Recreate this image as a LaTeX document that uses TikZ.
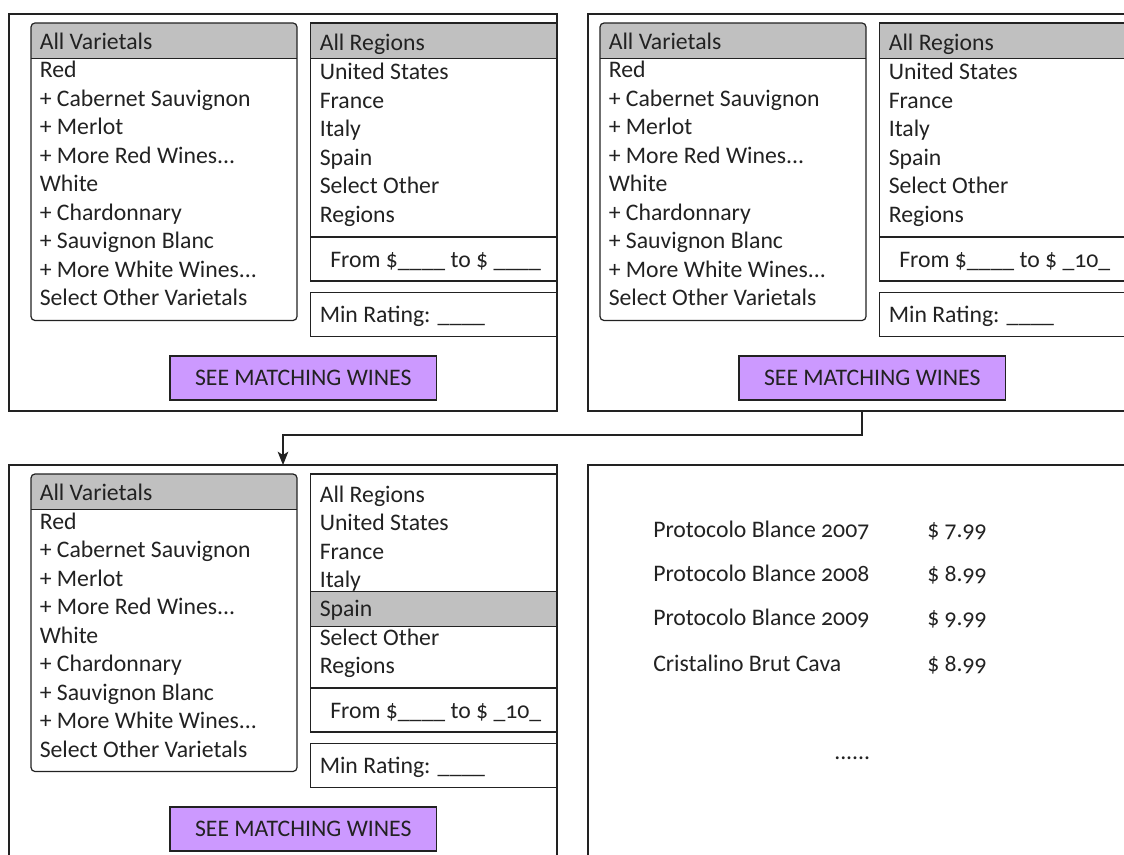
\documentclass[tikz,border=0pt]{standalone}
\usepackage{fontspec}
\setmainfont{Carlito}[Numbers=OldStyle]
\usetikzlibrary{arrows.meta,fit}
\definecolor{hdr}{HTML}{C0C0C0}
\definecolor{purp}{HTML}{CC99FF}
\definecolor{ink}{HTML}{222222}
\newcommand\tdots{...}
\tikzset{
  frame/.style={draw=ink, line width=0.9pt},
  panel/.style={draw=ink, line width=0.9pt, inner sep=0pt, outer sep=0pt},
  txt/.style={anchor=base west, inner sep=0pt, text=ink, font=\fontsize{17.8pt}{21pt}\selectfont},
  ctxt/.style={txt, anchor=base},
  link/.style={draw=ink, line width=0.9pt, -{Stealth[length=10pt,width=8pt,inset=2.5pt]}}
}
\newcommand\wform[6]{% #1 name, #2 dx, #3 dy, #4 price text, #5 header?, #6 spain?
\begin{scope}[shift={(#2,#3)}]
  % varietals box
  \begin{scope}
    \clip[rounded corners=3pt] (31,23) rectangle (297,320.5);
    \fill[hdr] (31,23) rectangle (297,58.3);
  \end{scope}
  \draw[frame] (31,58.3) -- (297,58.3);
  \draw[frame, rounded corners=3pt] (31,23) rectangle (297,320.5);
  \foreach \t [count=\i] in {All Varietals, Red, + Cabernet Sauvignon, + Merlot, + More Red Wines\tdots, White, + Chardonnary, + Sauvignon Blanc, + More White Wines\tdots, Select Other Varietals}
    \node[txt] (#1v\i) at (39.5,{49.5+28.5*(\i-1)}) {\t};
  % regions box
  \ifnum#5=1
    \fill[hdr] (310.5,23) rectangle (557,58.3);
    \draw[frame] (310.5,58.3) -- (557,58.3);
  \fi
  \ifnum#6=1
    \draw[frame, fill=hdr] (310.5,140.7) rectangle (557,175.7);
  \fi
  \draw[frame] (310.5,23) rectangle (557,237);
  \foreach \t [count=\i] in {All Regions, United States, France, Italy, Spain, Select Other, Regions}
    \node[txt] (#1r\i) at (319.5,{51+28.6*(\i-1)}) {\t};
  % price box
  \draw[frame] (310.5,237) rectangle (557,281);
  \node[txt] (#1p) at (330,267.5) {#4};
  % min rating
  \draw[frame] (310.5,292.5) rectangle (557,336.5);
  \node[txt] (#1m) at (319.5,322.5) {Min Rating: \_\_\_\_};
  % button
  \draw[frame, fill=purp] (170,356) rectangle (436.5,400);
  \node[ctxt] (#1b) at (303.25,385.5) {SEE MATCHING WINES};
\end{scope}}
\begin{document}
\begin{tikzpicture}[x=0.75pt,y=-0.75pt]
\useasboundingbox (0,0) rectangle (1124,855);
\clip (0,0) rectangle (1124,855);
\fill[white] (0,0) rectangle (1124,855);
% panels
\node[panel, fit={(9,14) (557,411)}] (P1) {};
\node[panel, fit={(588,14) (1136,411)}] (P2) {};
\node[panel, fit={(9,465) (557,870)}] (P3) {};
\node[panel, fit={(588,465) (1136,870)}] (P4) {};
% forms
\wform{a}{0}{0}{From \$\_\_\_\_ to \$ \_\_\_\_}{1}{0}
\wform{b}{569}{0}{From \$\_\_\_\_ to \$ \_10\_}{1}{0}
\wform{c}{0}{451}{From \$\_\_\_\_ to \$ \_10\_}{0}{1}
% results
\foreach \n/\p/\y [count=\i] in {Protocolo Blance 2007/7.99/537, Protocolo Blance 2008/8.99/581, Protocolo Blance 2009/9.99/625, Cristalino Brut Cava/8.99/671}{
  \node[txt] (w\i) at (653,\y) {\n};
  \node[txt] (pr\i) at (927,\y) {\$ \p};
}
\node[txt] (more) at (834,759) {......};
% connector
\draw[link] (P2.south) -- ++(0,24) coordinate (bend) -| (P3.north);
\end{tikzpicture}
\end{document}
